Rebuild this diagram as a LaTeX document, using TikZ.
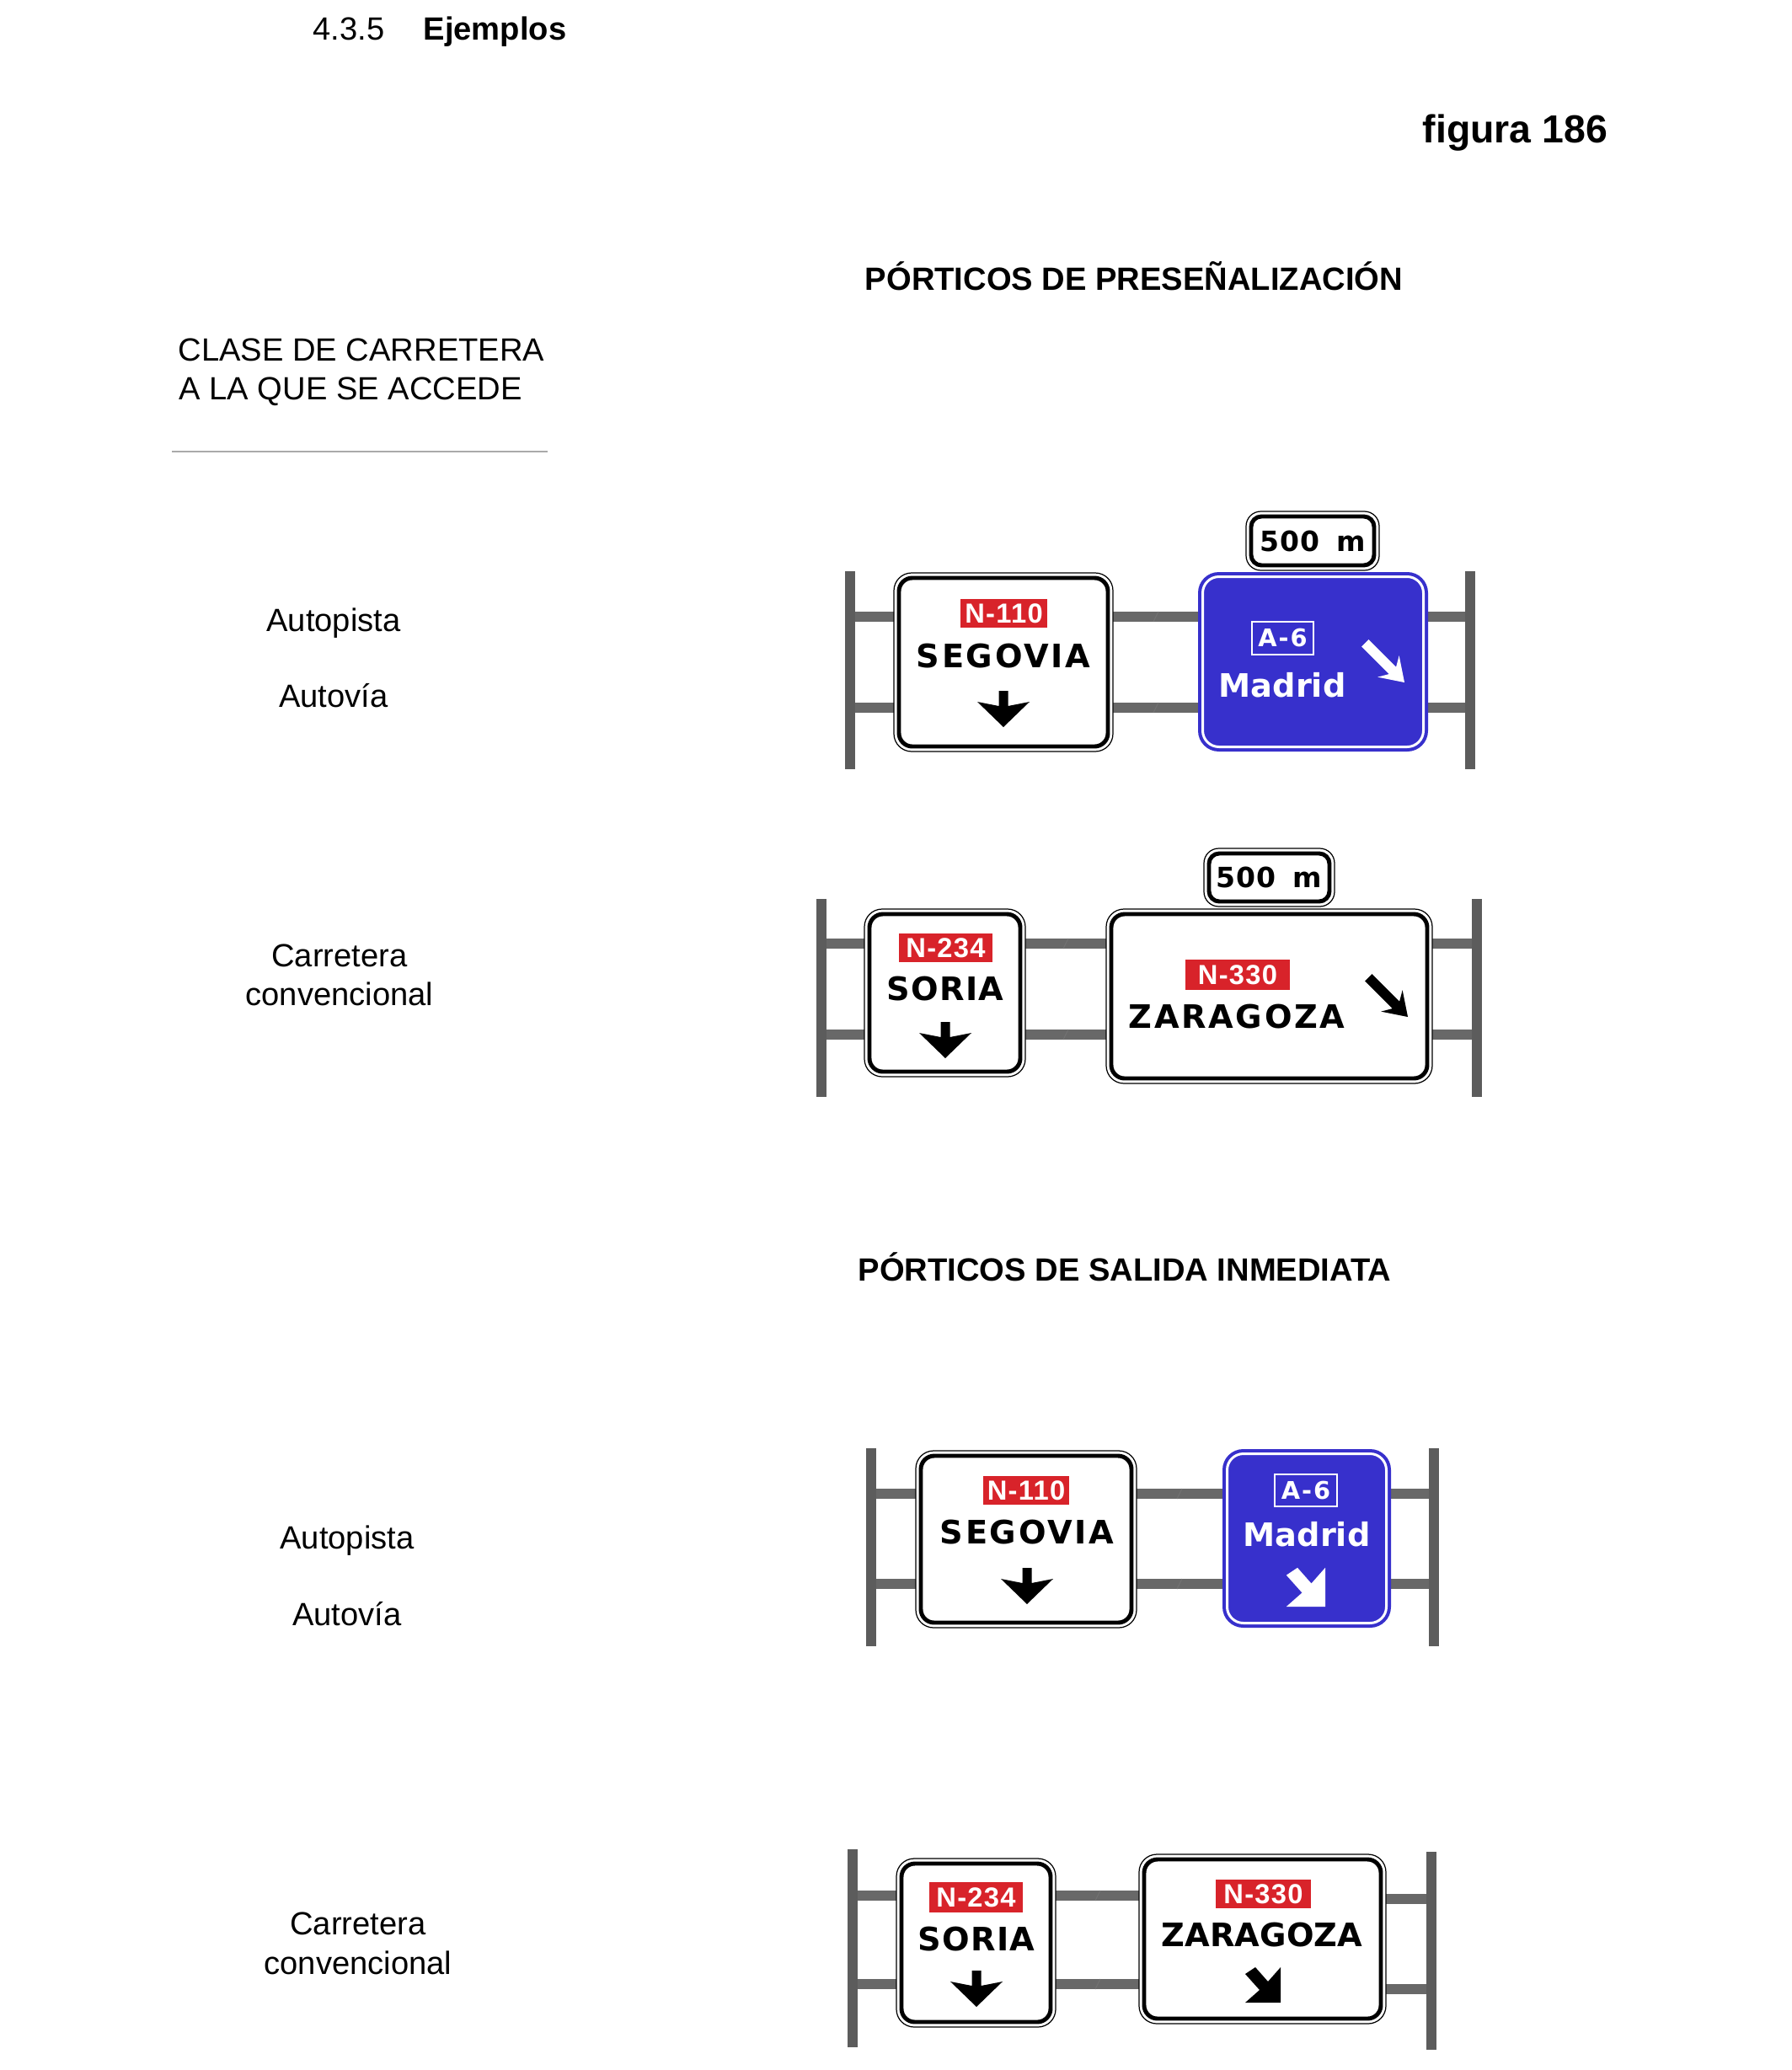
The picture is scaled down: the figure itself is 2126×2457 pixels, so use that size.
\documentclass[tikz,border=0pt]{standalone}
\usepackage{fontspec}
\setmainfont{Liberation Sans}
\newfontfamily\signfont[LetterSpace=7]{DejaVu Sans}
\newfontfamily\signfontm[LetterSpace=3]{DejaVu Sans}
\newfontfamily\signfontn{DejaVu Sans}
\newfontfamily\routefont[LetterSpace=4]{Liberation Sans}
\definecolor{signblue}{RGB}{55,48,204}
\definecolor{signred}{RGB}{216,35,42}
\definecolor{postgray}{RGB}{92,92,92}
\definecolor{beamgray}{RGB}{104,104,104}
\definecolor{rulegray}{RGB}{170,170,170}
\tikzset{
  lbl/.style={font=\fontsize{10.85}{12}\selectfont, inner sep=0, anchor=base},
  lblb/.style={font=\bfseries\fontsize{10.85}{12}\selectfont, inner sep=0, anchor=base},
  signtxt/.style={font=\signfont\bfseries\fontsize{10.9}{12}\selectfont, inner sep=0, anchor=base},
  signtxtm/.style={font=\signfontm\bfseries\fontsize{10.9}{12}\selectfont, inner sep=0, anchor=base},
  signtxtn/.style={font=\signfontn\bfseries\fontsize{10.9}{12}\selectfont, inner sep=0, anchor=base},
  route/.style={fill=signred, text=white, font=\routefont\bfseries\fontsize{9.3}{10}\selectfont, inner sep=0},
  routeb/.style={fill=signblue, draw=white, line width=0.7pt, text=white, font=\signfont\bfseries\fontsize{8.2}{9}\selectfont, inner sep=0},
  platetxt/.style={font=\signfontm\bfseries\fontsize{9.4}{10}\selectfont, inner sep=0, anchor=base}
}
\newcommand\wsign[5]{%
  \filldraw[fill=white, draw=black, line width=0.35pt, rounded corners=#5pt] (#1,#2) rectangle (#3,#4);
  \draw[line width=1.4pt, rounded corners=#5pt-1.5pt] (#1+6,#2+6) rectangle (#3-6,#4-6);}
\newcommand\bsign[4]{%
  \fill[signblue, rounded corners=7pt] (#1,#2) rectangle (#3,#4);
  \draw[white, line width=0.85pt, rounded corners=5.5pt] (#1+5.5,#2+5.5) rectangle (#3-5.5,#4-5.5);}
\newcommand\gpost[3]{\fill[postgray] (#1-6,#2) rectangle (#1+6,#3);}
\newcommand\gbeam[3]{\fill[beamgray] (#1,#3-6) rectangle (#2,#3+6);}
\newcommand\splice[2]{\draw[black!55, line width=0.3pt] (#1-3,#2+6) -- (#1+3,#2-6);}
\newcommand\dnarr[3]{%
  \fill[#3] (#1-5.5,#2) -- (#1+5.5,#2) -- (#1+5.5,#2+18) -- (#1+31,#2+13) -- (#1,#2+43) -- (#1-31,#2+13) -- (#1-5.5,#2+18) -- cycle;}
\newcommand\diagarr[3]{%
  \begin{scope}[shift={(#1,#2)}, rotate=-45]
    \fill[#3] (0,0) -- (-27,-18) -- (-20,-6) -- (-66,-6) -- (-66,6) -- (-20,6) -- (-27,18) -- cycle;
  \end{scope}}
\newcommand\larr[4]{%
  \begin{scope}[shift={(#1,#2)}, scale=#4]
    \fill[#3] (0,0) -- (0,-42) -- (-15,-25) -- (-30,-42) -- (-42,-34) -- (-25,-15) -- (-42,0) -- cycle;
  \end{scope}}
\begin{document}
\begin{tikzpicture}[x=0.01cm,y=-0.01cm]
\useasboundingbox (0,0) rectangle (2126,2457);
% headings
\node[lbl, anchor=base west] (n435) at (371,47) {4.3.5};
\node[lblb, anchor=base west] (nej) at (502,47) {Ejemplos};
\node[font=\bfseries\fontsize{13.2}{15}\selectfont, inner sep=0, anchor=base west] (nfig) at (1688,169) {figura 186};
\node[lblb] (npre) at (1346,344) {PÓRTICOS DE PRESEÑALIZACIÓN};
\node[lblb] (nsal) at (1335,1520) {PÓRTICOS DE SALIDA INMEDIATA};
\node[lbl, anchor=base west] (ncl1) at (211,428) {CLASE DE CARRETERA};
\node[lbl, anchor=base west] (ncl2) at (212,474) {A LA QUE SE ACCEDE};
\draw[rulegray, line width=0.45pt] (204,536) -- (650,536);
\node[lbl] (na1) at (396,749) {Autopista};
\node[lbl] (nv1) at (396,839) {Autovía};
\node[lbl] (nc1) at (403,1147) {Carretera};
\node[lbl] (ncv1) at (403,1193) {convencional};
\node[lbl] (na2) at (412,1838) {Autopista};
\node[lbl] (nv2) at (412,1929) {Autovía};
\node[lbl] (nc2) at (425,2296) {Carretera};
\node[lbl] (ncv2) at (425,2343) {convencional};
% ===== Gantry 1
\gbeam{1008}{1745}{732}\gbeam{1008}{1745}{840}
\splice{1372}{732}\splice{1372}{840}
\gpost{1008.5}{678}{913}\gpost{1744.5}{678}{913}
\wsign{1061}{680}{1321}{892}{6}
\bsign{1422}{679}{1695}{892}
\wsign{1479}{607}{1637}{677}{5}
\node[route, minimum width=1.03cm, minimum height=0.34cm] (r1) at (1191.5,728) {N-110};
\node[signtxt] (s1) at (1191,792) {SEGOVIA};
\dnarr{1191}{820}{black}
\node[routeb, minimum width=0.73cm, minimum height=0.39cm] (a1) at (1522.5,757.5) {A-6};
\node[signtxtn, text=white] (m1) at (1522,827) {Madrid};
\diagarr{1667}{810}{white}
\node[platetxt] (p1) at (1558,654) {500\hspace{0.6em}m};
% ===== Gantry 2
\gbeam{975}{1753}{1120}\gbeam{975}{1753}{1228}
\splice{1265}{1120}\splice{1265}{1228}
\gpost{974.5}{1067}{1302}\gpost{1753}{1067}{1302}
\wsign{1026}{1079}{1217}{1278}{6}
\wsign{1313}{1079}{1700}{1286}{6}
\wsign{1429}{1007}{1584}{1076}{5}
\node[route, minimum width=1.11cm, minimum height=0.34cm] (r2) at (1122.5,1125) {N-234};
\node[signtxtm] (s2) at (1122,1187) {SORIA};
\dnarr{1122}{1213}{black}
\node[route, minimum width=1.24cm, minimum height=0.36cm] (r3) at (1469,1157) {N-330};
\node[signtxt] (z1) at (1468,1220) {ZARAGOZA};
\diagarr{1671}{1207}{black}
\node[platetxt] (p2) at (1506,1053) {500\hspace{0.6em}m};
% ===== Gantry 3
\gbeam{1034}{1702}{1773}\gbeam{1034}{1702}{1880}
\splice{1400}{1773}\splice{1400}{1880}
\gpost{1034}{1719}{1954}\gpost{1701.5}{1719}{1954}
\wsign{1087}{1722}{1349}{1932}{6}
\bsign{1451}{1720}{1651}{1932}
\node[route, minimum width=1.02cm, minimum height=0.34cm] (r4) at (1218,1769) {N-110};
\node[signtxt] (s3) at (1219,1832) {SEGOVIA};
\dnarr{1219}{1861}{black}
\node[routeb, minimum width=0.74cm, minimum height=0.38cm] (a2) at (1550,1769) {A-6};
\node[signtxtn, text=white] (m2) at (1551,1835) {Madrid};
\larr{1573}{1907}{white}{1.1}
% ===== Gantry 4
\gbeam{1012}{1360}{2250}\gbeam{1012}{1360}{2355}
\gbeam{1640}{1698}{2254}\gbeam{1640}{1698}{2361}
\splice{1303}{2250}\splice{1303}{2355}
\gpost{1012}{2195}{2430}\gpost{1698.5}{2198}{2433}
\wsign{1064}{2206}{1253}{2406}{6}
\wsign{1352}{2201}{1645}{2402}{6}
\node[route, minimum width=1.11cm, minimum height=0.36cm] (r5) at (1158.5,2252) {N-234};
\node[signtxtm] (s4) at (1159,2315) {SORIA};
\dnarr{1159}{2339}{black}
\node[route, minimum width=1.13cm, minimum height=0.34cm] (r6) at (1499.5,2248) {N-330};
\node[signtxtn] (z2) at (1498,2310) {ZARAGOZA};
\larr{1520}{2377}{black}{1}
\end{tikzpicture}
\end{document}
